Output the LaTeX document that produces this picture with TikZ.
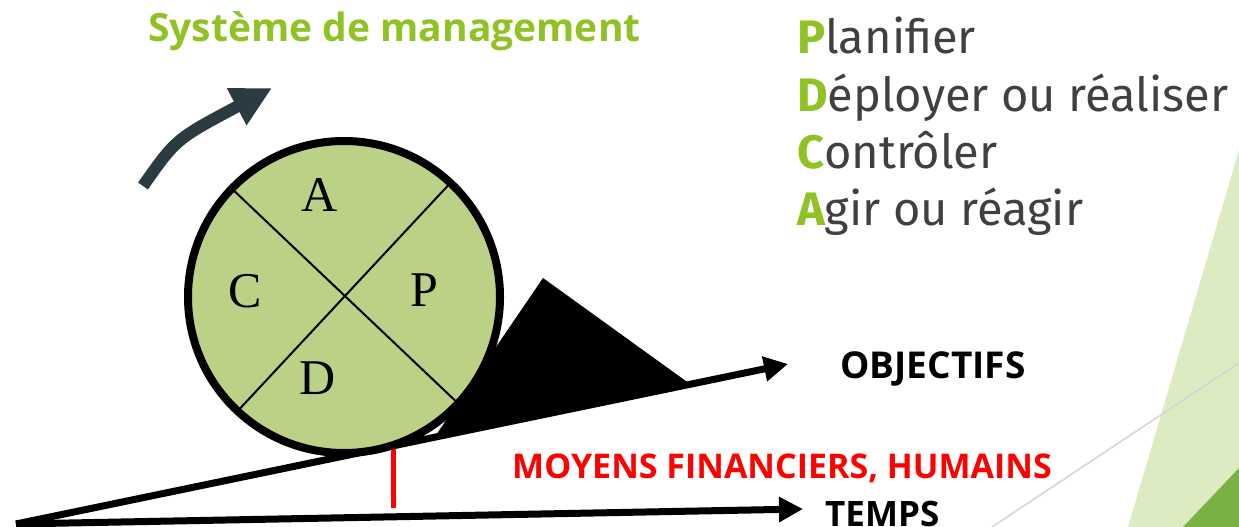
\documentclass[tikz,border=0pt]{standalone}
\usepackage{fontspec}
\setmainfont{Liberation Serif}
\newfontfamily\facetfont{Fira Sans}
\newfontfamily\boldfont{Open Sans}
\usetikzlibrary{arrows.meta}
\definecolor{facetgreen}{HTML}{90C226}
\definecolor{wheelgreen}{HTML}{BBD186}
\definecolor{slate}{HTML}{2C3B42}
\definecolor{textgrey}{HTML}{404040}
\definecolor{palegreen}{HTML}{DDEBC2}
\definecolor{deepgreen}{HTML}{78B244}
\newcommand{\initial}[1]{\textcolor{facetgreen}{\bfseries #1}}

\begin{document}
\begin{tikzpicture}[x=1pt,y=-1pt,
  letter/.style={inner sep=0,font=\fontsize{50}{50}\selectfont},
  pdca/.style={anchor=base west,inner sep=0,text=textgrey,font=\facetfont\fontsize{47}{47}\selectfont},
  axislabel/.style={anchor=base west,inner sep=0,font=\boldfont\bfseries\fontsize{#1}{#1}\selectfont},
  axislabel/.default=36,
  axisline/.style={line width=7pt,-{Triangle[length=24pt,width=24pt]}}]
  \useasboundingbox (0,0) rectangle (1239,527);
  % Background
  \fill[palegreen] (1239,150) -- (1128,527) -- (1239,527) -- cycle;
  \fill[deepgreen] (1183,527) -- (1239,468) -- (1239,527) -- cycle;
  \draw[black!17,line width=1.5pt] (992,527) -- (1239,363);
  % Title and list
  \node[axislabel=39,text=facetgreen] (title) at (148,42) {Système de management};
  \node[pdca] (plan) at (797,53) {\initial{P}lanifier};
  \node[pdca] (deploy) at (797,111) {\initial{D}éployer ou réaliser};
  \node[pdca] (check) at (797,168) {\initial{C}ontrôler};
  \node[pdca] (act) at (797,225) {\initial{A}gir ou réagir};
  % Wedge
  \coordinate (apex) at (16,524);
  \coordinate (objtip) at (788,364);
  \coordinate (temptip) at (803,509);
  \fill (543,278) -- (690,384) -- (434,438) -- cycle;
  \draw[axisline] (apex) -- (objtip);
  \draw[axisline] (apex) -- (temptip);
  \draw[red,line width=5pt] (393,445) -- (393,508);
  % Labels
  \node[axislabel=37] (objectifs) at (840,378) {OBJECTIFS};
  \node[axislabel=34,text=red] (moyens) at (512,478) {MOYENS FINANCIERS, HUMAINS};
  \node[axislabel=35] (temps) at (825,526) {TEMPS};
  % Wheel
  \node[circle,draw,line width=8pt,outer sep=0,fill=wheelgreen,minimum size=312pt] (wheel) at (344,297) {};
  \draw[line width=2pt] (wheel.136) -- (wheel.-43);
  \draw[line width=2pt] (wheel.47) -- (wheel.227);
  \node[letter] (a) at (320,195) {A};
  \node[letter] (c) at (245,291) {C};
  \node[letter] (p) at (424,290) {P};
  \node[letter] (d) at (318,378) {D};
  % Turning arrow
  \coordinate (swingfrom) at (143,186);
  \coordinate (swingto) at (272,88);
  \draw[slate,line width=12pt,-{Triangle[length=40pt,width=39pt]}] (swingfrom) .. controls (176,139) .. (swingto);
\end{tikzpicture}
\end{document}
